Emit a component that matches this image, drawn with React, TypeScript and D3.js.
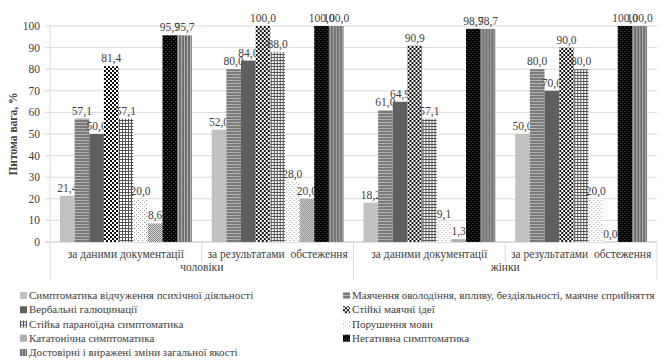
import React from 'react';
import * as d3 from 'd3';

// categories
const subGroups = ['за даними документації', 'за результатами  обстеження', 'за даними документації', 'за результатами  обстеження'];
const genders = ['чоловіки', 'жінки'];
const yTicks = [0, 10, 20, 30, 40, 50, 60, 70, 80, 90, 100];

// series names (in bar order)
const seriesNames = [
  'Симптоматика відчуження психічної діяльності',
  'Маячення оволодіння, впливу, бездіяльності, маячне сприйняття',
  'Вербальні галюцинації',
  'Стійкі маячні ідеї',
  'Стійка параноїдна симптоматика',
  'Порушення мови',
  'Кататонічна симптоматика',
  'Негативна симптоматика',
  'Достовірні і виражені зміни загальної якості',
];

// values per series, one per sub-group
const alienation = [21.4, 52.0, 18.2, 50.0];
const delusionControl = [57.1, 80.0, 61.0, 80.0];
const verbalHalluc = [50.0, 84.0, 64.9, 70.0];
const persistentDelusions = [81.4, 100.0, 90.9, 90.0];
const paranoid = [57.1, 88.0, 57.1, 80.0];
const speech = [20.0, 28.0, 9.1, 20.0];
const catatonic = [8.6, 20.0, 1.3, 0.0];
const negative = [95.7, 100.0, 98.7, 100.0];
const qualityChanges = [95.7, 100.0, 98.7, 100.0];

const seriesValues = [alienation, delusionControl, verbalHalluc, persistentDelusions, paranoid, speech, catatonic, negative, qualityChanges];

const W = 671;
const H = 362;
const plot = { left: 50, right: 657, top: 26, bottom: 242 };
const serif = "'Liberation Serif', 'Times New Roman', serif";

const Patterns = () => (
  <defs>
    <pattern id="p0" width="2" height="2" patternUnits="userSpaceOnUse">
      <rect width="2" height="2" fill="#c4c4c4" />
      <rect width="1" height="1" fill="#b8b8b8" />
    </pattern>
    <pattern id="p1" width="3" height="3" patternUnits="userSpaceOnUse">
      <rect width="3" height="3" fill="#7a7a7a" />
      <rect y="2" width="3" height="1" fill="#b4b4b4" />
    </pattern>
    <pattern id="p2" width="2" height="2" patternUnits="userSpaceOnUse">
      <rect width="2" height="2" fill="#5f5f5f" />
    </pattern>
    <pattern id="p3" width="4" height="4" patternUnits="userSpaceOnUse">
      <rect width="4" height="4" fill="#ffffff" />
      <rect width="2" height="2" fill="#111" />
      <rect x="2" y="2" width="2" height="2" fill="#111" />
    </pattern>
    <pattern id="p4" width="3" height="3" patternUnits="userSpaceOnUse">
      <rect width="3" height="3" fill="#ffffff" />
      <rect width="3" height="1" fill="#555" />
      <rect width="1" height="3" fill="#555" />
    </pattern>
    <pattern id="p5" width="4" height="4" patternUnits="userSpaceOnUse">
      <rect width="4" height="4" fill="#ffffff" />
      <rect width="1" height="1" fill="#999" />
      <rect x="2" y="2" width="1" height="1" fill="#999" />
    </pattern>
    <pattern id="p6" width="2" height="2" patternUnits="userSpaceOnUse">
      <rect width="2" height="2" fill="#dedede" />
      <rect width="1" height="1" fill="#808080" />
      <rect x="1" y="1" width="1" height="1" fill="#808080" />
    </pattern>
    <pattern id="p7" width="4" height="4" patternUnits="userSpaceOnUse">
      <rect width="4" height="4" fill="#050505" />
      <rect x="1" y="1" width="1" height="1" fill="#555" />
      <rect x="3" y="3" width="1" height="1" fill="#555" />
    </pattern>
    <pattern id="p8" width="3" height="3" patternUnits="userSpaceOnUse">
      <rect width="3" height="3" fill="#707070" />
      <rect x="2" width="1" height="3" fill="#b0b0b0" />
    </pattern>
  </defs>
);

const fmt = (v: number) => v.toFixed(1).replace('.', ',');

export default function App() {
  const x0 = d3.scaleBand<number>().domain(d3.range(subGroups.length)).range([plot.left, plot.right]).padding(0);
  const x1 = d3.scaleBand<number>().domain(d3.range(seriesNames.length)).range([0, x0.bandwidth()]).paddingInner(0).paddingOuter(0.68);
  const y = d3.scaleLinear().domain([0, 100]).range([plot.bottom, plot.top]);
  const xGender = d3.scaleBand<number>().domain(d3.range(genders.length)).range([plot.left, plot.right]).padding(0);

  const legendRows = Math.ceil(seriesNames.length / 2);
  const legendY = d3.scalePoint<number>().domain(d3.range(legendRows)).range([299, 356]);
  const legendX = [20, 343];

  return (
    <svg width={W} height={H} style={{ position: 'absolute', left: 0, top: 0, background: '#fff', fontFamily: serif }}>
      <Patterns />
      {/* gridlines */}
      {yTicks.map((t) => (
        <g key={t}>
          <line x1={plot.left - 5} x2={plot.right} y1={y(t)} y2={y(t)} stroke={t === 0 ? '#bfbfbf' : '#d9d9d9'} strokeWidth={1} />
          <text x={40} y={y(t) + 4} textAnchor="end" fontSize={11.5} fill="#404040">{t}</text>
        </g>
      ))}
      <line x1={plot.left} x2={plot.left} y1={plot.top} y2={280} stroke="#d9d9d9" />

      {/* bars */}
      {subGroups.map((_, gi) => (
        <g key={gi} transform={`translate(${x0(gi)},0)`}>
          {seriesValues.map((vals, si) => (
            <g key={si}>
              <rect x={x1(si)} y={y(vals[gi])} width={x1.bandwidth()} height={y(0) - y(vals[gi])} fill={`url(#p${si})`} />
              <text x={(x1(si) as number) + x1.bandwidth() / 2} y={y(vals[gi]) - 4} textAnchor="middle" fontSize={11.5} fill="#404040">{fmt(vals[gi])}</text>
            </g>
          ))}
        </g>
      ))}

      {/* category axis */}
      {subGroups.map((g, gi) => (
        <g key={gi}>
          <line x1={(x0(gi) as number) + x0.bandwidth()} x2={(x0(gi) as number) + x0.bandwidth()} y1={plot.bottom} y2={gi % 2 === 0 ? 262 : 280} stroke="#d9d9d9" />
          <text x={(x0(gi) as number) + x0.bandwidth() / 2} y={258} textAnchor="middle" fontSize={11.5} fill="#404040" style={{ whiteSpace: 'pre' }}>{g}</text>
        </g>
      ))}
      {genders.map((g, i) => (
        <text key={g} x={(xGender(i) as number) + xGender.bandwidth() / 2} y={271} textAnchor="middle" fontSize={11.5} fill="#404040">{g}</text>
      ))}

      {/* y axis title */}
      <text transform={`translate(17,${(plot.top + plot.bottom) / 2}) rotate(-90)`} textAnchor="middle" fontSize={11.5} fontWeight="bold" fill="#404040">Питома вага, %</text>

      {/* legend */}
      {seriesNames.map((name, i) => {
        const col = i % 2;
        const row = Math.floor(i / 2);
        const ly = legendY(row) as number;
        return (
          <g key={name} transform={`translate(${legendX[col]},${ly})`}>
            <rect x={0} y={-7} width={7} height={7} fill={`url(#p${i})`} />
            <text x={9} y={0} fontSize={11} fill="#404040">{name}</text>
          </g>
        );
      })}
    </svg>
  );
}
